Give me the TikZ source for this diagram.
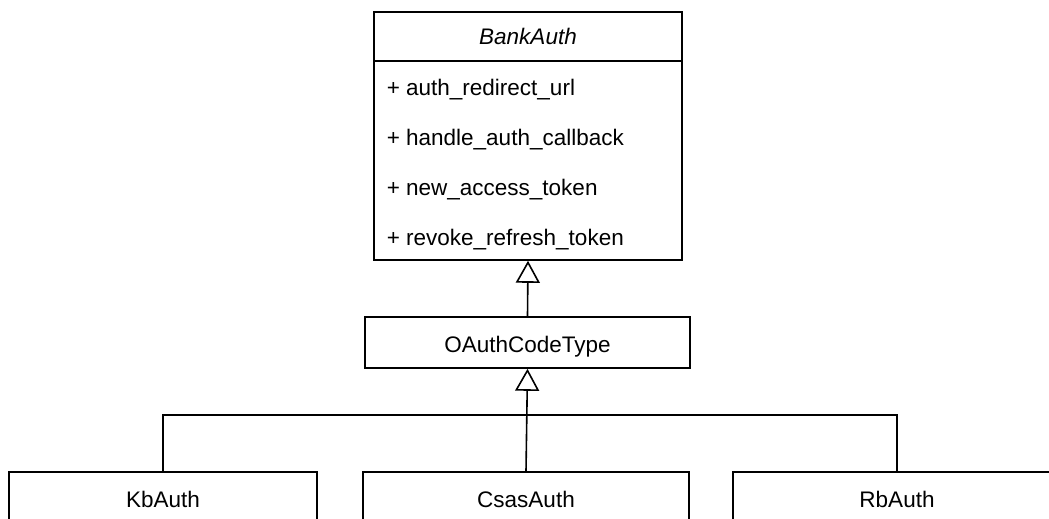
\documentclass[tikz,border=0pt]{standalone}
\usepackage{fontspec}
\setmainfont{Liberation Sans}
\usetikzlibrary{arrows.meta}
\begin{document}
\begin{tikzpicture}[x=1pt, y=-1pt, line width=1.6pt,
  umlfont/.style={font=\fontsize{22.5}{27}\selectfont},
  classbox/.style={draw, umlfont, rectangle, inner sep=0pt,
    minimum height=51pt, text height=19pt, text depth=0pt},
  member/.style={umlfont, inner sep=0pt, anchor=base west},
  inherits/.style={-{Triangle[open, length=22pt, width=24pt, fill=white]}},
  wire/.style={line join=miter}]
\useasboundingbox (0,0) rectangle (1049,519);
\clip (0,0) rectangle (1049,519);

% abstract base class: name compartment and member compartment
\node[classbox, minimum width=308pt, minimum height=49pt, text height=17pt,
      font=\fontsize{22.5}{27}\selectfont\itshape] (bankhead) at (528,36.5) {BankAuth};
\node[draw, rectangle, inner sep=0pt, minimum width=308pt, minimum height=199pt]
      (bankbody) at (528,160.5) {};
\node[member] (m1) at (386,95)  {+ auth\_redirect\_url};
\node[member] (m2) at (386,145) {+ handle\_auth\_callback};
\node[member] (m3) at (386,195) {+ new\_access\_token};
\node[member] (m4) at (386,245) {+ revoke\_refresh\_token};

% intermediate class
\node[classbox, minimum width=325pt] (oauth) at (527.5,342.5) {OAuthCodeType};

% concrete classes
\node[classbox, minimum width=308pt] (kb)   at (163,497.5) {KbAuth};
\node[classbox, minimum width=326pt] (csas) at (526,497.5) {CsasAuth};
\node[classbox, minimum width=328pt] (rb)   at (897,497.5) {RbAuth};

% generalisation arrows
\draw[inherits] (oauth.north) -- (bankbody.south);
\draw[inherits] (csas.north) -- (oauth.south);
\coordinate (join) at (527.5,415);
\draw[wire] (kb.north) |- (join) -| (rb.north);
\end{tikzpicture}
\end{document}
